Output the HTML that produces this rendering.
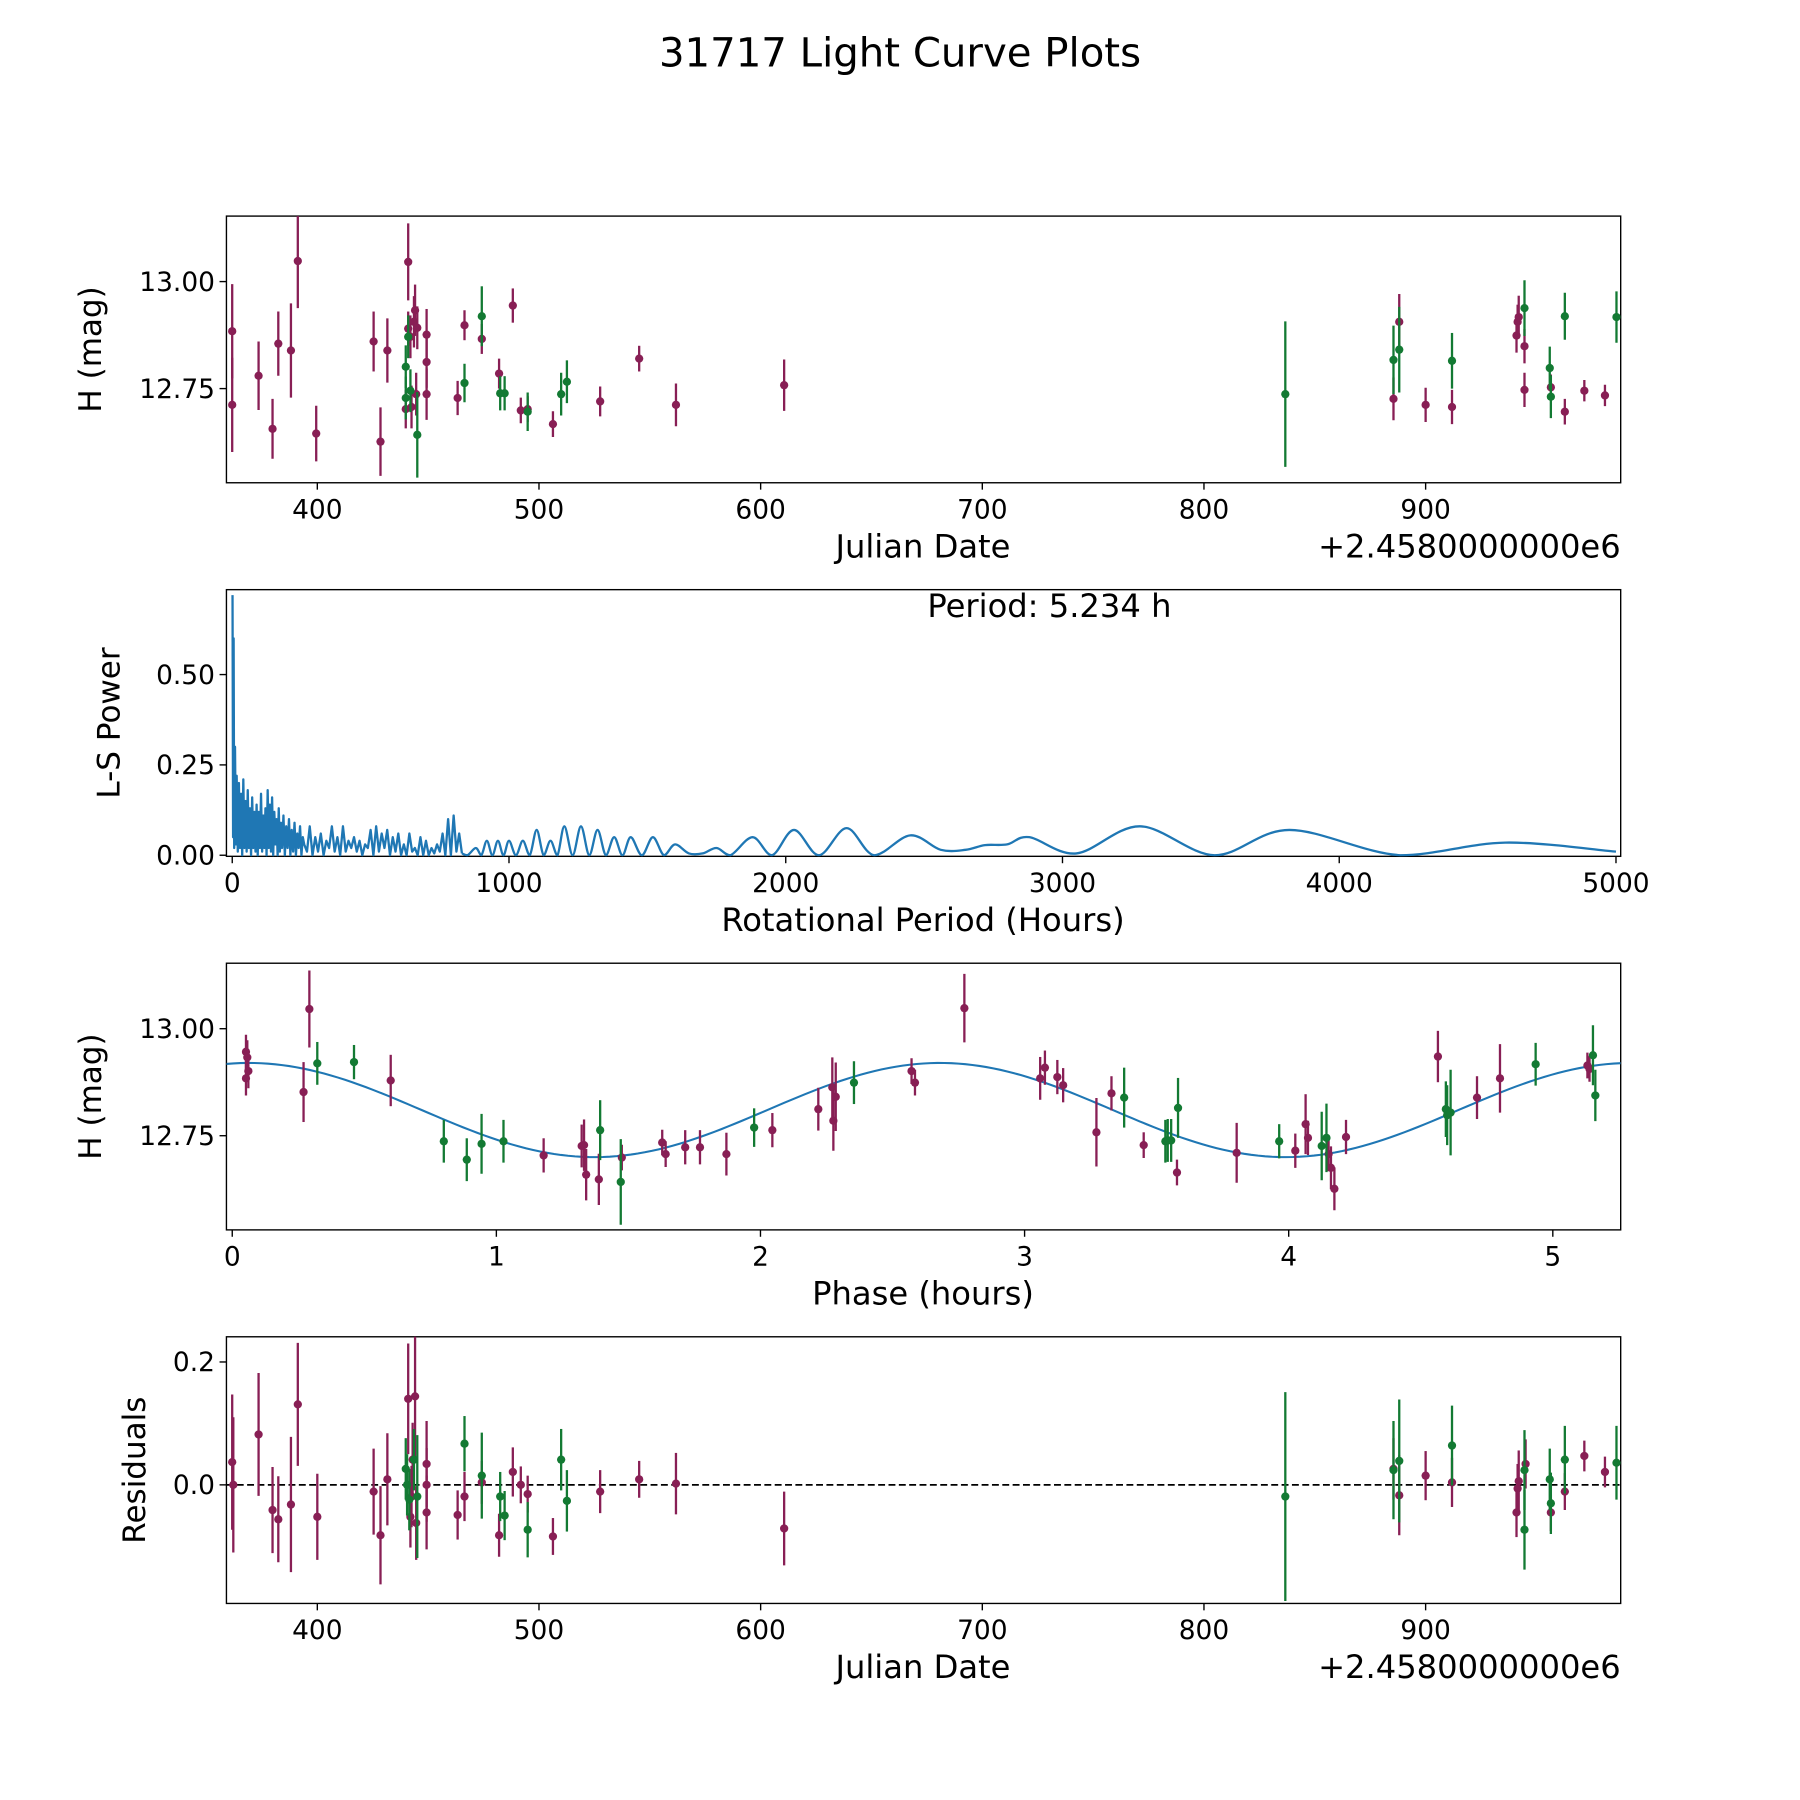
<!DOCTYPE html>
<html><head><meta charset="utf-8"><style>
html,body{margin:0;padding:0;background:#fff;}
svg{display:block;font-family:"DejaVu Sans","Liberation Sans",sans-serif;}
</style></head><body>
<svg id="fig" width="1800" height="1800" viewBox="0 0 1566 1566" xmlns="http://www.w3.org/2000/svg">
<rect width="1566" height="1566" fill="#fff"/>
<text x="783" y="58" font-size="35" text-anchor="middle">31717 Light Curve Plots</text>
<g id="g1"></g>
<g id="g2"></g>
<g id="g3"></g>
<g id="g4"></g>
</svg>
<script>
// ---- data ----
const lcPurpleJD=[361.6,361.6,373.5,379.8,382.4,388.1,391.2,399.5,425.4,428.5,431.6,439.9,441.0,441.0,442.0,442.5,443.6,444.1,444.6,445.1,449.3,449.3,449.3,463.3,466.4,474.2,482.0,488.2,491.8,494.9,506.3,527.6,545.2,561.8,610.6,885.5,888.1,900.0,911.9,941.0,941.5,942.0,944.6,944.6,956.5,962.8,971.6,980.9];
const lcPurpleMag=[12.884,12.712,12.780,12.656,12.855,12.839,13.048,12.645,12.860,12.626,12.839,12.702,13.046,12.890,12.871,12.707,12.906,12.933,12.737,12.892,12.876,12.812,12.737,12.728,12.898,12.866,12.785,12.944,12.699,12.702,12.667,12.720,12.820,12.712,12.758,12.726,12.906,12.712,12.707,12.874,12.906,12.917,12.849,12.747,12.753,12.696,12.745,12.734];
const lcPurpleErr=[0.11,0.11,0.08,0.07,0.075,0.11,0.11,0.065,0.07,0.08,0.075,0.045,0.09,0.04,0.05,0.05,0.06,0.06,0.05,0.05,0.06,0.06,0.06,0.04,0.035,0.035,0.035,0.04,0.03,0.03,0.03,0.035,0.03,0.05,0.06,0.05,0.065,0.04,0.04,0.04,0.04,0.05,0.04,0.04,0.03,0.03,0.025,0.025];
const lcGreenJD=[439.9,439.9,441.0,442.0,445.1,466.4,474.2,482.5,484.5,494.9,510.0,512.6,836.7,885.5,888.1,911.9,944.6,956.0,956.5,962.8,986.1];
const lcGreenMag=[12.801,12.728,12.871,12.745,12.642,12.763,12.919,12.739,12.739,12.696,12.737,12.766,12.737,12.817,12.841,12.815,12.938,12.798,12.731,12.919,12.917];
const lcGreenErr=[0.05,0.05,0.05,0.05,0.1,0.045,0.07,0.04,0.04,0.045,0.05,0.05,0.17,0.08,0.1,0.065,0.065,0.05,0.05,0.055,0.06];

// periodogram: dense low-period spikes, then smooth region
const lsSpikePeriod=[1,3,5,7,10,13,16,20,24,28,32,36,40,44,48,52,56,60,64,68,72,76,80,84,88,92,96,100,104,108,112,116,120,124,128,132,136,140,144,148,152,156,160,164,168,172,176,180,185,190,195,200,205,210,215,220,225,230,235,240,245,250,255,260,270,280,290,300,310,320,330,340,350,360,370,380,390,400,410,420,430,440,450,460,470,480,490,500,510,520,530,540,550,560,570,580,590,600,610,620,630,640,650,660,670,680,690,700,710,720,730,740,750,760,770,780,790,800,810,820,830];
const lsSpikePower=[0.72,0.05,0.6,0.02,0.3,0.03,0.22,0.01,0.2,0.02,0.17,0.0,0.21,0.02,0.15,0.01,0.18,0.02,0.13,0.0,0.16,0.02,0.12,0.01,0.14,0.0,0.12,0.02,0.17,0.01,0.11,0.02,0.13,0.0,0.18,0.02,0.14,0.01,0.16,0.0,0.12,0.03,0.1,0.0,0.13,0.01,0.09,0.02,0.11,0.0,0.08,0.02,0.1,0.0,0.07,0.01,0.09,0.0,0.06,0.02,0.08,0.0,0.05,0.03,0.01,0.08,0.0,0.05,0.01,0.06,0.0,0.04,0.02,0.08,0.01,0.05,0.0,0.08,0.01,0.04,0.02,0.05,0.01,0.04,0.0,0.03,0.02,0.07,0.0,0.08,0.01,0.06,0.02,0.07,0.0,0.05,0.01,0.06,0.0,0.03,0.0,0.06,0.01,0.02,0.0,0.05,0.0,0.04,0.0,0.02,0.005,0.03,0.01,0.06,0.0,0.1,0.0,0.11,0.01,0.06,0.005];
const lsPeriod=[850,880,900,920,940,960,980,1000,1025,1050,1075,1100,1125,1150,1175,1200,1230,1260,1290,1320,1350,1380,1410,1440,1480,1520,1560,1600,1650,1700,1750,1800,1880,1950,2030,2120,2220,2320,2450,2560,2650,2720,2800,2880,3050,3280,3550,3820,4220,4600,5000];
const lsPower=[0.0,0.02,0.0,0.04,0.0,0.04,0.0,0.04,0.0,0.04,0.0,0.07,0.0,0.04,0.0,0.08,0.0,0.08,0.0,0.07,0.0,0.05,0.0,0.05,0.0,0.05,0.0,0.03,0.005,0.005,0.02,0.0,0.05,0.0,0.07,0.0,0.075,0.0,0.055,0.015,0.015,0.028,0.03,0.05,0.005,0.08,0.0,0.07,0.0,0.035,0.01];
const lsPeriodLabel=["Period: 5.234 h"];

const phPurplePh=[0.052,0.057,0.061,0.052,0.27,0.292,0.60,1.179,1.323,1.332,1.340,1.388,1.475,1.628,1.641,1.715,1.771,1.871,2.045,2.219,2.272,2.276,2.285,2.572,2.585,2.772,3.059,3.077,3.124,3.146,3.272,3.329,3.451,3.577,3.803,4.025,4.064,4.073,4.151,4.160,4.173,4.217,4.565,4.713,4.800,5.131,5.139];
const phPurpleMag=[12.946,12.933,12.901,12.884,12.852,13.046,12.879,12.704,12.726,12.728,12.659,12.648,12.699,12.734,12.707,12.723,12.723,12.707,12.763,12.812,12.863,12.785,12.841,12.901,12.874,13.048,12.884,12.909,12.887,12.868,12.758,12.849,12.728,12.664,12.710,12.715,12.777,12.745,12.707,12.675,12.626,12.747,12.935,12.839,12.884,12.914,12.906];
const phPurpleErr=[0.04,0.04,0.04,0.04,0.07,0.09,0.06,0.04,0.05,0.06,0.06,0.06,0.03,0.03,0.03,0.04,0.04,0.05,0.04,0.05,0.07,0.07,0.08,0.03,0.03,0.08,0.05,0.04,0.04,0.04,0.08,0.04,0.03,0.03,0.07,0.04,0.07,0.04,0.04,0.05,0.05,0.04,0.06,0.05,0.08,0.03,0.03];
const phGreenPh=[0.322,0.461,0.801,0.888,0.944,1.027,1.393,1.471,1.976,2.354,3.377,3.533,3.542,3.555,3.581,3.964,4.125,4.143,4.595,4.600,4.613,4.935,5.152,5.161];
const phGreenMag=[12.919,12.922,12.737,12.694,12.731,12.737,12.763,12.642,12.769,12.874,12.839,12.737,12.739,12.739,12.815,12.737,12.726,12.745,12.812,12.798,12.804,12.917,12.938,12.844];
const phGreenErr=[0.05,0.04,0.05,0.05,0.07,0.05,0.07,0.1,0.045,0.05,0.07,0.05,0.05,0.05,0.07,0.04,0.08,0.08,0.065,0.07,0.1,0.05,0.07,0.06];
// sinusoid fit parameters: mean, amplitude, period (h), phase of max (h)
const fitMean=[12.81];
const fitAmp=[0.11];
const fitPeriod=[2.617];
const fitPeak=[2.68];

const resPurpleJD=[361.6,362.1,373.5,379.8,382.4,388.1,391.2,400.0,425.4,428.5,431.6,441.0,442.5,444.1,444.6,443.0,442.0,449.3,449.3,449.3,463.3,466.4,474.2,482.0,488.2,491.8,494.9,506.3,527.6,545.2,561.8,610.6,885.5,888.1,900.0,911.9,941.0,941.5,942.0,945.1,956.5,962.8,971.6,980.9];
const resPurpleVal=[0.037,0.0,0.082,-0.041,-0.056,-0.032,0.131,-0.052,-0.011,-0.082,0.009,0.140,-0.019,0.144,-0.062,0.041,-0.052,0.034,0.0,-0.045,-0.049,-0.019,0.004,-0.082,0.021,0.0,-0.015,-0.084,-0.011,0.009,0.002,-0.071,0.026,-0.017,0.015,0.004,-0.045,-0.006,0.006,0.034,-0.045,-0.011,0.047,0.021];
const resPurpleErr=[0.11,0.11,0.1,0.07,0.07,0.11,0.1,0.07,0.07,0.08,0.075,0.09,0.05,0.1,0.06,0.06,0.05,0.07,0.06,0.06,0.04,0.04,0.035,0.035,0.04,0.03,0.03,0.03,0.035,0.03,0.05,0.06,0.05,0.065,0.04,0.04,0.04,0.04,0.05,0.04,0.03,0.03,0.025,0.025];
const resGreenJD=[439.9,440.5,441.5,443.6,445.1,466.4,474.2,482.5,484.5,494.9,510.0,512.6,836.7,885.5,888.1,911.9,944.6,944.6,956.0,956.5,962.8,986.1];
const resGreenVal=[0.026,0.0,-0.024,0.041,-0.019,0.067,0.015,-0.019,-0.050,-0.073,0.041,-0.026,-0.019,0.024,0.039,0.064,0.024,-0.073,0.009,-0.030,0.041,0.036];
const resGreenErr=[0.05,0.05,0.05,0.05,0.1,0.045,0.07,0.04,0.04,0.045,0.05,0.05,0.17,0.08,0.1,0.065,0.065,0.065,0.05,0.05,0.055,0.06];

const jdTicks=[400,500,600,700,800,900];
const magTicks=[12.75,13.00];
const lsXTicks=[0,1000,2000,3000,4000,5000];
const lsYTicks=[0,0.25,0.5];
const phTicks=[0,1,2,3,4,5];
const resTicks=[0.0,0.2];

// ---- drawing ----
const NS="http://www.w3.org/2000/svg";
const PURPLE="#881f55", GREEN="#137a33", BLUE="#1f77b4";
function mk(parent,tag,attrs,text){const e=document.createElementNS(NS,tag);for(const k in attrs)e.setAttribute(k,attrs[k]);if(text!==undefined)e.textContent=text;parent.appendChild(e);return e;}
function scale(d0,d1,p0,p1){return v=>p0+(v-d0)/(d1-d0)*(p1-p0);}
const L=197,R=1410;

function axes(g,top,bot,xs,ys,xt,yt,xfmt,yfmt,xlabel,ylabel,ylx,xlY,offset){
  const fr=mk(g,'rect',{x:L,y:top,width:R-L,height:bot-top,fill:'none',stroke:'#000','stroke-width':1.2});
  
  
  xt.forEach(v=>{const x=xs(v);
    const t=mk(g,'line',{x1:x,x2:x,y1:bot,y2:bot+6,stroke:'#000','stroke-width':1.2});
    
    
    const l=mk(g,'text',{x:x,y:bot+31,'font-size':23,'text-anchor':'middle'},xfmt(v));
    
    });
  yt.forEach(v=>{const y=ys(v);
    const t=mk(g,'line',{x1:L-6,x2:L,y1:y,y2:y,stroke:'#000','stroke-width':1.2});
    
    
    const l=mk(g,'text',{x:L-10,y:y+8,'font-size':23,'text-anchor':'end'},yfmt(v));
    
    });
  const xl=mk(g,'text',{x:803,y:bot+xlY,'font-size':28,'text-anchor':'middle'},xlabel);
  
  
  const cy=(top+bot)/2;
  const yl=mk(g,'text',{x:ylx,y:cy,'font-size':27,'text-anchor':'middle',transform:`rotate(-90 ${ylx} ${cy})`},ylabel);
  
  
  if(offset){const o=mk(g,'text',{x:R,y:bot+xlY,'font-size':28,'text-anchor':'end'},offset);
    
    }
}
function clip(g,id,top,bot){const c=mk(g,'clipPath',{id:id});mk(c,'rect',{x:L,y:top,width:R-L,height:bot-top});return 'url(#'+id+')';}
function errpts(g,xs,ys,X,Y,E,col,name,cp){
  const gg=mk(g,'g',{'clip-path':cp});
  X.forEach((xv,i)=>{const x=xs(xv);
    const b=mk(gg,'line',{x1:x,x2:x,y1:ys(Y[i]-E[i]),y2:ys(Y[i]+E[i]),stroke:col,'stroke-width':2});
    
    
    const c=mk(gg,'circle',{cx:x,cy:ys(Y[i]),r:3.6,fill:col});
    
    });
}
const fmt2=v=>v.toFixed(2);

// Panel 1
{const g=document.getElementById('g1');const top=188,bot=420;
 const xs=scale(359,988,L,R), ys=scale(12.53,13.153,bot,top);
 axes(g,top,bot,xs,ys,jdTicks,magTicks,v=>String(v),fmt2,'Julian Date','H (mag)',88,65,'+2.4580000000e6');
 const cp=clip(g,'c1',top,bot);
 errpts(g,xs,ys,lcPurpleJD,lcPurpleMag,lcPurpleErr,PURPLE,'purple-filter',cp);
 errpts(g,xs,ys,lcGreenJD,lcGreenMag,lcGreenErr,GREEN,'green-filter',cp);}

// Panel 2
{const g=document.getElementById('g2');const top=513,bot=745;
 const xs=scale(-21,5017,L,R), ys=scale(-0.003,0.735,bot,top);
 axes(g,top,bot,xs,ys,lsXTicks,lsYTicks,v=>String(v),fmt2,'Rotational Period (Hours)','L-S Power',104,65,null);
 const cp=clip(g,'c2',top,bot);
 let sd='';
 lsSpikePeriod.forEach((p,i)=>{sd+=(i?' L':'M')+xs(p)+','+ys(lsSpikePower[i]);});
 const sp=mk(g,'path',{d:sd,fill:'none',stroke:BLUE,'stroke-width':2,'stroke-linejoin':'round','clip-path':cp});
 
 
 const pts=[[xs(lsSpikePeriod[lsSpikePeriod.length-1]),ys(lsSpikePower[lsSpikePower.length-1])]].concat(lsPeriod.map((p,i)=>[xs(p),ys(lsPower[i])]));
 let d='M'+pts[0][0]+','+pts[0][1];
 for(let i=0;i<pts.length-1;i++){
   const p0=pts[Math.max(0,i-1)],p1=pts[i],p2=pts[i+1],p3=pts[Math.min(pts.length-1,i+2)];
   const c1x=p1[0]+(p2[0]-p0[0])/6,c1y=Math.min(ys(0),p1[1]+(p2[1]-p0[1])/6);
   const c2x=p2[0]-(p3[0]-p1[0])/6,c2y=Math.min(ys(0),p2[1]-(p3[1]-p1[1])/6);
   d+=` C${c1x},${c1y} ${c2x},${c2y} ${p2[0]},${p2[1]}`;
 }
 const ln=mk(g,'path',{d:d,fill:'none',stroke:BLUE,'stroke-width':2,'clip-path':cp});
 
 
 const pl=mk(g,'text',{x:913,y:537,'font-size':28,'text-anchor':'middle'},lsPeriodLabel[0]);
 
 }

// Panel 3
{const g=document.getElementById('g3');const top=838,bot=1070;
 const xs=scale(-0.022,5.257,L,R), ys=scale(12.53,13.153,bot,top);
 axes(g,top,bot,xs,ys,phTicks,magTicks,v=>String(v),fmt2,'Phase (hours)','H (mag)',88,65,null);
 const cp=clip(g,'c3',top,bot);
 let d='';
 for(let k=0;k<=200;k++){const ph=-0.022+k*(5.257+0.022)/200;
   const m=fitMean[0]+fitAmp[0]*Math.cos(2*Math.PI*(ph-fitPeak[0])/fitPeriod[0]);
   d+=(k?' L':'M')+xs(ph)+','+ys(m);}
 const fit=mk(g,'path',{d:d,fill:'none',stroke:BLUE,'stroke-width':1.8,'clip-path':cp});
 
 
 errpts(g,xs,ys,phPurplePh,phPurpleMag,phPurpleErr,PURPLE,'purple-filter',cp);
 errpts(g,xs,ys,phGreenPh,phGreenMag,phGreenErr,GREEN,'green-filter',cp);}

// Panel 4
{const g=document.getElementById('g4');const top=1163,bot=1395;
 const xs=scale(359,988,L,R), ys=scale(-0.193,0.241,bot,top);
 axes(g,top,bot,xs,ys,jdTicks,resTicks,v=>String(v),v=>v.toFixed(1),'Julian Date','Residuals',126,65,'+2.4580000000e6');
 const cp=clip(g,'c4',top,bot);
 const z=mk(g,'line',{x1:L,x2:R,y1:ys(0),y2:ys(0),stroke:'#000','stroke-width':1.5,'stroke-dasharray':'6,3'});
 
 
 errpts(g,xs,ys,resPurpleJD,resPurpleVal,resPurpleErr,PURPLE,'purple-filter',cp);
 errpts(g,xs,ys,resGreenJD,resGreenVal,resGreenErr,GREEN,'green-filter',cp);}
</script>
</body></html>
